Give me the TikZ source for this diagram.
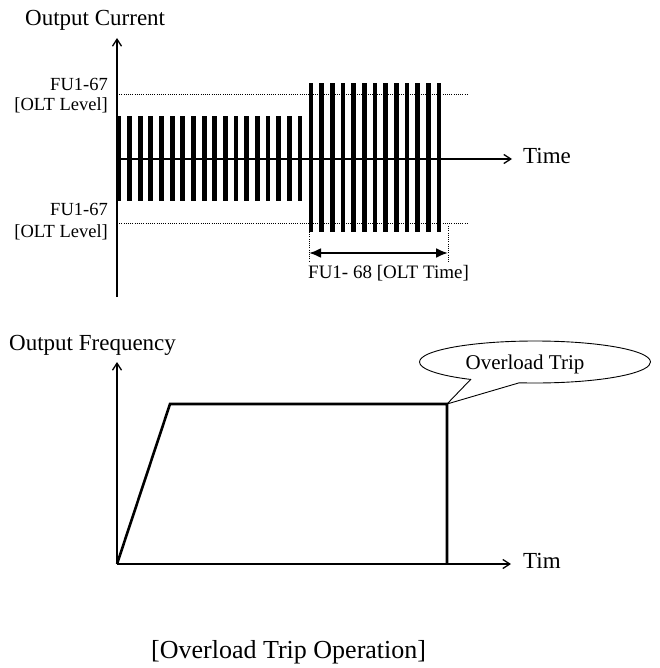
\documentclass[tikz,border=0pt]{standalone}
\usepackage{fontspec}
\setmainfont{Liberation Serif}
\usetikzlibrary{arrows.meta,shapes.callouts}
\newcommand\myfsA{\fontsize{23}{27}\selectfont}
\newcommand\myfsB{\fontsize{18.5}{22}\selectfont}
\newcommand\myfsC{\fontsize{19}{22}\selectfont}
\newcommand\myfsD{\fontsize{21}{24}\selectfont}
\newcommand\myfsE{\fontsize{26}{30}\selectfont}
\begin{document}
\begin{tikzpicture}[x=1pt,y=-1pt,
  axis/.style={line width=2pt,-{Straight Barb[length=7pt,width=9pt,line width=1.3pt]}},
  bar/.style={fill=black},
  level/.style={line width=0.9pt,dash pattern=on 1pt off 1.2pt},
  guide/.style={line width=0.9pt,dash pattern=on 1pt off 1.2pt},
  dim/.style={line width=2.2pt,{Latex[length=12pt,width=10pt]}-{Latex[length=12pt,width=10pt]}},
  curve/.style={line width=2.6pt,line join=miter},
  txt/.style={inner sep=0pt,anchor=base west},
  rtxt/.style={inner sep=0pt,anchor=base east}]
\useasboundingbox (0,0) rectangle (659,668);

% ---------- Output current plot ----------
\coordinate (ybot) at (117,297);
\coordinate (ytop) at (117,38);
\coordinate (xl) at (117,159);
\coordinate (xr) at (512,159);
\coordinate (ul) at (117,94.5);
\coordinate (ur) at (468,94.5);
\coordinate (ll) at (117,223);
\coordinate (lr) at (468,223);

\draw[level] (ul) -- (ur);
\draw[level] (ll) -- (lr);

\foreach \i in {0,...,17}
  \fill[bar] (116.5+\i*10.65,116) rectangle ++(4.8,85);
\foreach \i in {0,...,12}
  \fill[bar] (308.5+\i*10.67,83) rectangle ++(4.8,149);

\draw[axis] (ybot) -- (ytop);
\draw[axis] (xl) -- (xr);

\coordinate (g1t) at (309,232);
\coordinate (g1b) at (309,262);
\coordinate (g2t) at (448,226);
\coordinate (g2b) at (448,262);
\draw[guide] (g1t) -- (g1b);
\draw[guide] (g2t) -- (g2b);
\coordinate (d1) at (309,253);
\coordinate (d2) at (448,253);
\draw[dim] (d1) -- (d2);

\node[txt,font=\myfsA] (oc) at (25,26) {Output Current};
\node[txt,font=\myfsA] (time) at (523,164) {Time};
\node[rtxt,font=\myfsB] (fu1) at (108,90.5) {FU1-67};
\node[rtxt,font=\myfsB] (olt1) at (108,111) {[OLT Level]};
\node[rtxt,font=\myfsB] (fu2) at (108,215) {FU1-67};
\node[rtxt,font=\myfsB] (olt2) at (108,237) {[OLT Level]};
\node[txt,font=\myfsC] (oltt) at (308,278) {FU1- 68 [OLT Time]};

% ---------- Output frequency plot ----------
\coordinate (o) at (117,564);
\coordinate (ftop) at (117,362);
\coordinate (fxr) at (511,564);
\coordinate (r1) at (170,404);
\coordinate (r2) at (447,404);
\coordinate (r3) at (447,564);

\draw[curve] (o) -- (r1) -- (r2) -- (r3);
\draw[axis] (o) -- (ftop);
\draw[axis] (o) -- (fxr);

\node[txt,font=\myfsA] (of) at (9,350) {Output Frequency};
\node[txt,font=\myfsA] (tim) at (523,568) {Tim};

\node[ellipse callout,draw,line width=0.9pt,minimum width=231pt,minimum height=42pt,
      inner sep=0pt,callout absolute pointer={(r2)},callout pointer arc=26,
      font=\myfsD,text depth=0pt] (trip) at (535,362) {\hspace*{-20pt}Overload Trip};

\node[txt,font=\myfsE] (cap) at (151,658) {[Overload Trip Operation]};
\end{tikzpicture}
\end{document}
